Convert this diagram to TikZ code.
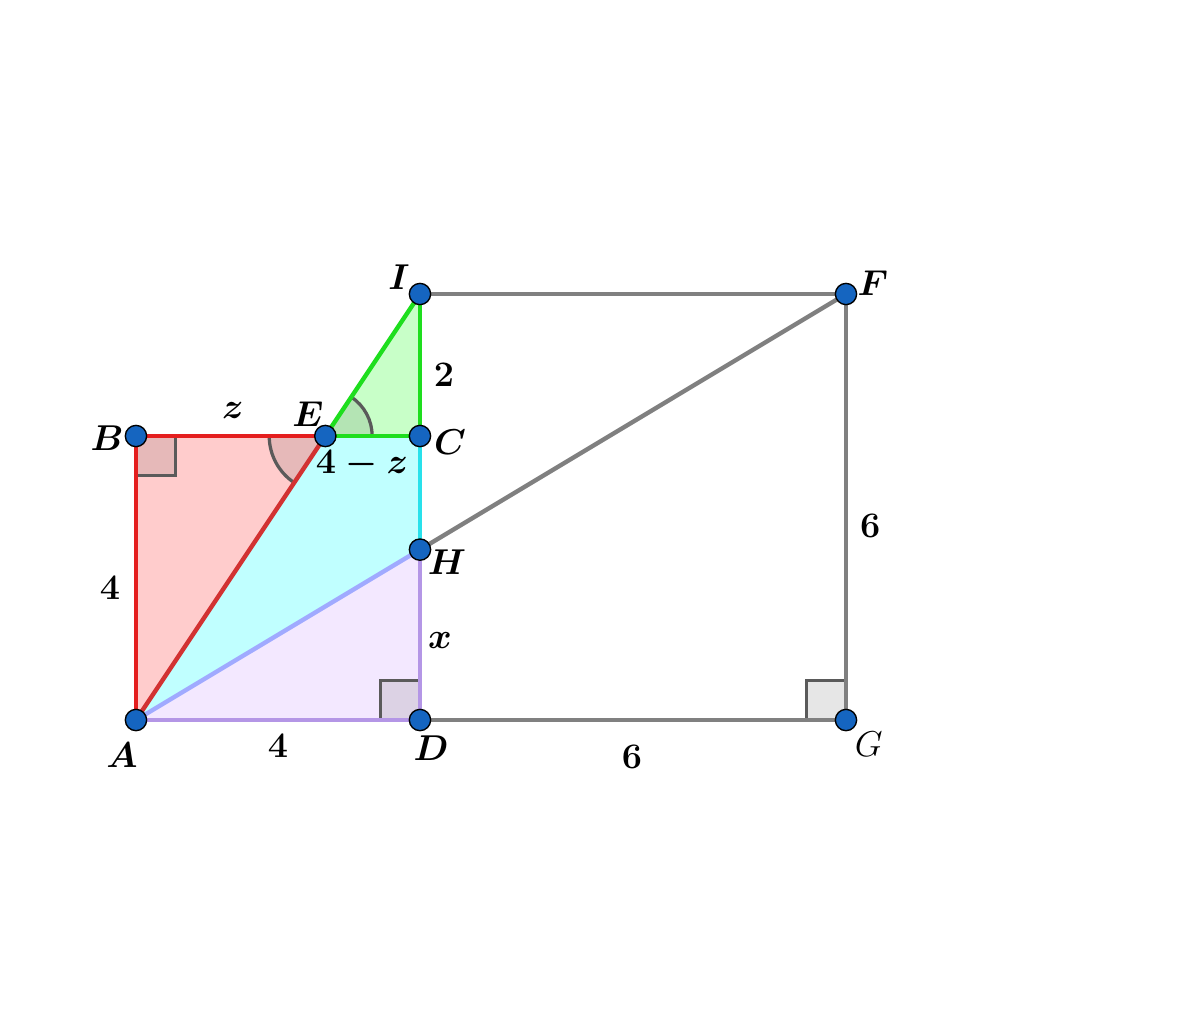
\documentclass[tikz,border=0pt]{standalone}
\usepackage{amsmath}
\usetikzlibrary{calc}
\definecolor{redfill}{RGB}{255,204,204}
\definecolor{redline}{RGB}{228,30,30}
\definecolor{redae}{RGB}{210,50,50}
\definecolor{redmark}{RGB}{230,185,185}
\definecolor{cyanfill}{RGB}{192,255,255}
\definecolor{cyanline}{RGB}{40,225,235}
\definecolor{blueline}{RGB}{160,170,255}
\definecolor{purpfill}{RGB}{243,232,255}
\definecolor{purpline}{RGB}{180,150,230}
\definecolor{purpmark}{RGB}{220,210,228}
\definecolor{greenfill}{RGB}{200,255,200}
\definecolor{greenline}{RGB}{30,222,30}
\definecolor{greenmark}{RGB}{180,228,180}
\definecolor{greyline}{RGB}{128,128,128}
\definecolor{greymark}{RGB}{230,230,230}
\definecolor{markline}{RGB}{90,90,90}
\definecolor{ptfill}{RGB}{21,101,192}
\begin{document}
\begin{tikzpicture}[
  seg/.style={line width=1.75pt},
  anglemark/.style={line width=1.3pt, draw=markline},
  pt/.style={circle, fill=ptfill, draw=black, line width=0.55pt, inner sep=0pt, minimum size=0.3cm},
  lbl/.style={font=\fontsize{14.4}{16}\selectfont, inner sep=0pt}
]
\useasboundingbox (-1.915,-4.268) rectangle (14.986,10.141);
\coordinate (A) at (0,0);
\coordinate (D) at (4,0);
\coordinate (G) at (10,0);
\coordinate (B) at (0,4);
\coordinate (C) at (4,4);
\coordinate (E) at (8/3,4);
\coordinate (I) at (4,6);
\coordinate (F) at (10,6);
\coordinate (H) at (4,2.4);
% fills
\fill[redfill] (A) -- (B) -- (E) -- cycle;
\fill[cyanfill] (A) -- (E) -- (C) -- (H) -- cycle;
\fill[purpfill] (A) -- (H) -- (D) -- cycle;
\fill[greenfill] (E) -- (C) -- (I) -- cycle;
% angle markers
\fill[redmark] (E) -- ++(180:0.79) arc[start angle=180, end angle=236.31, radius=0.79] -- cycle;
\draw[anglemark] ($(E)+(180:0.79)$) arc[start angle=180, end angle=236.31, radius=0.79];
\fill[greenmark] (E) -- ++(0:0.66) arc[start angle=0, end angle=56.31, radius=0.66] -- cycle;
\draw[anglemark] ($(E)+(0:0.66)$) arc[start angle=0, end angle=56.31, radius=0.66];
\filldraw[anglemark, fill=redmark] (B) -- ++(0.56,0) -- ++(0,-0.56) -- ++(-0.56,0);
\filldraw[anglemark, fill=purpmark] (D) -- ++(-0.56,0) -- ++(0,0.56) -- ++(0.56,0);
\filldraw[anglemark, fill=greymark] (G) -- ++(-0.56,0) -- ++(0,0.56) -- ++(0.56,0);
% segments
\draw[seg, greyline] (D) -- (G);
\draw[seg, greyline] (G) -- (F);
\draw[seg, greyline] (I) -- (F);
\draw[seg, greyline] (H) -- (F);
\draw[seg, redline] (A) -- (B);
\draw[seg, redline] (B) -- (E);
\draw[seg, redae] (A) -- (E);
\draw[seg, cyanline] (C) -- (H);
\draw[seg, blueline] (A) -- (H);
\draw[seg, purpline] (A) -- (D);
\draw[seg, purpline] (H) -- (D);
\draw[seg, greenline] (E) -- (C);
\draw[seg, greenline] (C) -- (I);
\draw[seg, greenline] (E) -- (I);
% points
\foreach \p in {A,B,C,D,E,F,G,H,I} \node[pt] (p\p) at (\p) {};
% labels
\node[lbl] (lA) at (-0.197,-0.493) {$\boldsymbol{A}$};
\node[lbl] (lB) at (-0.408,3.972) {$\boldsymbol{B}$};
\node[lbl] (lC) at (4.423,3.915) {$\boldsymbol{C}$};
\node[lbl] (lD) at (4.155,-0.394) {$\boldsymbol{D}$};
\node[lbl] (lE) at (2.423,4.31) {$\boldsymbol{E}$};
\node[lbl] (lF) at (10.38,6.155) {$\boldsymbol{F}$};
\node[lbl] (lG) at (10.32,-0.338) {$G$};
\node[lbl] (lH) at (4.38,2.23) {$\boldsymbol{H}$};
\node[lbl] (lI) at (3.704,6.24) {$\boldsymbol{I}$};
\node[lbl] (lz) at (1.366,4.366) {$\boldsymbol{z}$};
\node[lbl] (l4z) at (3.183,3.606) {$\boldsymbol{4-z}$};
\node[lbl] (l2) at (4.338,4.859) {$\boldsymbol{2}$};
\node[lbl] (l4a) at (-0.366,1.859) {$\boldsymbol{4}$};
\node[lbl] (lx) at (4.282,1.113) {$\boldsymbol{x}$};
\node[lbl] (l4b) at (2.0,-0.366) {$\boldsymbol{4}$};
\node[lbl] (l6a) at (6.986,-0.521) {$\boldsymbol{6}$};
\node[lbl] (l6b) at (10.34,2.73) {$\boldsymbol{6}$};
\end{tikzpicture}
\end{document}
